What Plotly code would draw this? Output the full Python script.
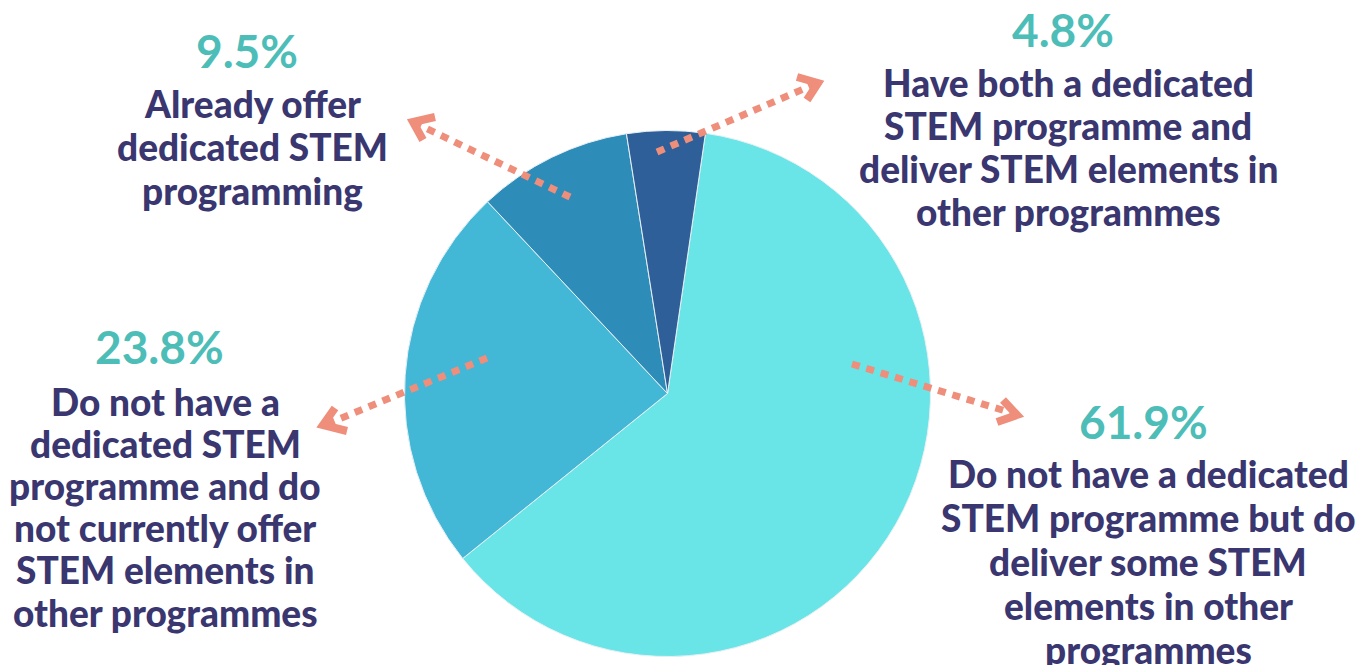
import plotly.graph_objects as go

W, H = 1371, 665

# ---- data ----
categories = [
    "Do not have a dedicated STEM programme but do deliver some STEM elements in other programmes",
    "Do not have a dedicated STEM programme and do not currently offer STEM elements in other programmes",
    "Already offer dedicated STEM programming",
    "Have both a dedicated STEM programme and deliver STEM elements in other programmes",
]
values = [61.9, 23.8, 9.5, 4.8]
slice_colors = ["#69E4E7", "#42B7D6", "#2E8CB9", "#2E5F98"]

label_lines = [
    ["Do not have a dedicated", "STEM programme but do", "deliver some STEM", "elements in other", "programmes"],
    ["Do not have a", "dedicated STEM", "programme and do", "not currently offer", "STEM elements in", "other programmes"],
    ["Already offer", "dedicated STEM", "programming"],
    ["Have both a dedicated", "STEM programme and", "deliver STEM elements in", "other programmes"],
]

# ---- layout (pixel positions) ----
label_x = [1148, 165, 252, 1068]
pct_x = [1143, 159, 247, 1063]
pct_y = [421, 346, 50, 29]
first_line_y = [473, 401, 103, 82]
line_gap = [44, 42.2, 43.5, 43.3]

arrows = [  # (start, end) of each dotted arrow, pixels
    ((852, 364), (1012, 413)),
    ((487, 358), (327, 424)),
    ((570, 197), (417, 124)),
    ((657, 152), (813, 85)),
]
heads = [  # chevron arm ends, tip
    ((1003, 400), (1017, 415), (997, 422)),
    ((335, 408), (323, 425), (347, 431)),
    ((435, 117), (413, 122), (423, 140)),
    ((797, 77), (818, 83), (807, 100)),
]

PCT_COLOR = "#4DBDB8"
TXT_COLOR = "#393670"
ARROW_COLOR = "#EF8E7B"
FONT = "Lato"

cx, cy, r = 667.5, 393.5, 263

fig = go.Figure()
fig.add_trace(go.Pie(
    labels=categories,
    values=values,
    sort=False,
    direction="clockwise",
    rotation=8.3,
    marker=dict(colors=slice_colors, line=dict(color="#E8F0F5", width=1)),
    textinfo="none",
    hoverinfo="label+percent",
    showlegend=False,
    domain=dict(x=[(cx - r) / W, (cx + r) / W], y=[(H - cy - r) / H, (H - cy + r) / H]),
))

shapes = []
for (s, e) in arrows:
    shapes.append(dict(type="line", xref="x", yref="y", x0=s[0], y0=s[1], x1=e[0], y1=e[1],
                       line=dict(color=ARROW_COLOR, width=7, dash="8px,7px")))
for (a, t, b) in heads:
    shapes.append(dict(type="path", xref="x", yref="y",
                       path=f"M {a[0]} {a[1]} L {t[0]} {t[1]} L {b[0]} {b[1]}",
                       line=dict(color=ARROW_COLOR, width=8)))

annotations = []
for i, v in enumerate(values):
    annotations.append(dict(x=pct_x[i], y=pct_y[i], xref="x", yref="y", text=f"{v}%",
                            showarrow=False, xanchor="center", yanchor="middle",
                            font=dict(family=FONT, size=46, color=PCT_COLOR, weight="bold")))
    for j, line in enumerate(label_lines[i]):
        annotations.append(dict(x=label_x[i], y=first_line_y[i] + j * line_gap[i], xref="x", yref="y",
                                text=line, showarrow=False, xanchor="center", yanchor="middle",
                                font=dict(family=FONT, size=37, color=TXT_COLOR, weight=900)))

fig.update_layout(
    width=W, height=H,
    margin=dict(l=0, r=0, t=0, b=0),
    paper_bgcolor="white", plot_bgcolor="rgba(0,0,0,0)",
    xaxis=dict(range=[0, W], visible=False, fixedrange=True),
    yaxis=dict(range=[H, 0], visible=False, fixedrange=True),
    shapes=shapes,
    annotations=annotations,
)

fig.write_html("out.html", config={"displayModeBar": False},
               post_script="document.body.style.margin='0';")
